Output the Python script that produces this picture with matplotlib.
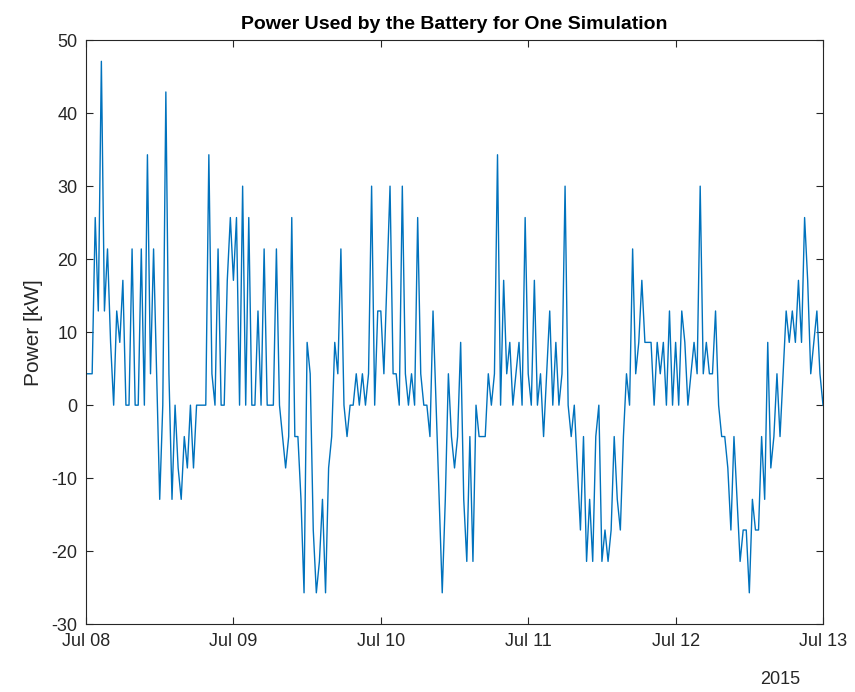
"""
Battery power for one simulation, Jul 08 - Jul 13 2015 (half-hour steps)
"""
import numpy as np
import pandas as pd
import matplotlib
matplotlib.use('Agg')
import matplotlib.pyplot as plt
import matplotlib.dates as mdates

plt.rcParams['font.family'] = ['Liberation Sans', 'DejaVu Sans']
plt.rcParams['axes.unicode_minus'] = False

# power in kW, one value per half hour, one list per day
jul08 = [4.3, 4.3, 4.3, 25.7, 12.9, 47.1, 12.9, 21.4, 8.6, 0, 12.9, 8.6,
         17.1, 0, 0, 21.4, 0, 0, 21.4, 0, 34.3, 4.3, 21.4, 4.3,
         -12.9, 0, 42.9, 4.3, -12.9, 0, -8.6, -12.9, -4.3, -8.6, 0, -8.6,
         0, 0, 0, 0, 34.3, 4.3, 0, 21.4, 0, 0, 17.1, 25.7]
jul09 = [17.1, 25.7, 0, 30.0, 0, 25.7, 0, 0, 12.9, 0, 21.4, 0,
         0, 0, 21.4, 0, -4.3, -8.6, -4.3, 25.7, -4.3, -4.3, -12.9, -25.7,
         8.6, 4.3, -17.1, -25.7, -21.4, -12.9, -25.7, -8.6, -4.3, 8.6, 4.3, 21.4,
         0, -4.3, 0, 0, 4.3, 0, 4.3, 0, 4.3, 30.0, 0, 12.9]
jul10 = [12.9, 4.3, 17.1, 30.0, 4.3, 4.3, 0, 30.0, 4.3, 0, 4.3, 0,
         25.7, 4.3, 0, 0, -4.3, 12.9, 0, -12.9, -25.7, -12.9, 4.3, -4.3,
         -8.6, -4.3, 8.6, -12.9, -21.4, -4.3, -21.4, 0, -4.3, -4.3, -4.3, 4.3,
         0, 4.3, 34.3, 0, 17.1, 4.3, 8.6, 0, 4.3, 8.6, 0, 25.7]
jul11 = [4.3, 0, 17.1, 0, 4.3, -4.3, 4.3, 12.9, 0, 8.6, 0, 4.3,
         30.0, 0, -4.3, 0, -8.6, -17.1, -4.3, -21.4, -12.9, -21.4, -4.3, 0,
         -21.4, -17.1, -21.4, -17.1, -4.3, -12.9, -17.1, -4.3, 4.3, 0, 21.4, 4.3,
         8.6, 17.1, 8.6, 8.6, 8.6, 0, 8.6, 4.3, 8.6, 0, 12.9, 0]
jul12 = [8.6, 0, 12.9, 8.6, 0, 4.3, 8.6, 4.3, 30.0, 4.3, 8.6, 4.3,
         4.3, 12.9, 0, -4.3, -4.3, -8.6, -17.1, -4.3, -12.9, -21.4, -17.1, -17.1,
         -25.7, -12.9, -17.1, -17.1, -4.3, -12.9, 8.6, -8.6, -4.3, 4.3, -4.3, 4.3,
         12.9, 8.6, 12.9, 8.6, 17.1, 8.6, 25.7, 17.1, 4.3, 8.6, 12.9, 4.3, 0]

power = jul08 + jul09 + jul10 + jul11 + jul12
times = pd.date_range('2015-07-08', periods=len(power), freq='30min')

y_ticks = [-30, -20, -10, 0, 10, 20, 30, 40, 50]

fig = plt.figure(figsize=(8.55, 6.92), dpi=100)
ax = fig.add_axes([0.1006, 0.098, 0.862, 0.844])

ax.plot(times, power, color='#0072BD', linewidth=1.0)

ax.set_xlim(pd.Timestamp('2015-07-08'), pd.Timestamp('2015-07-13'))
ax.set_ylim(-30, 50)
ax.set_yticks(y_ticks)
ax.xaxis.set_major_locator(mdates.DayLocator())
ax.xaxis.set_major_formatter(mdates.DateFormatter('%b %d'))

ax.tick_params(direction='in', top=True, right=True, length=5, width=0.8,
               colors='#262626', labelsize=13, pad=6)
for s in ax.spines.values():
    s.set_color('#262626')
    s.set_linewidth(0.8)

ax.set_ylabel('Power [kW]', fontsize=15, color='#262626', labelpad=6)
ax.set_title('Power Used by the Battery for One Simulation', fontsize=14,
             fontweight='bold', pad=8)
fig.text(0.936, 0.018, '2015', ha='right', va='center',
         fontsize=13, color='#262626')

plt.savefig('out.png', dpi=100)
plt.close()
